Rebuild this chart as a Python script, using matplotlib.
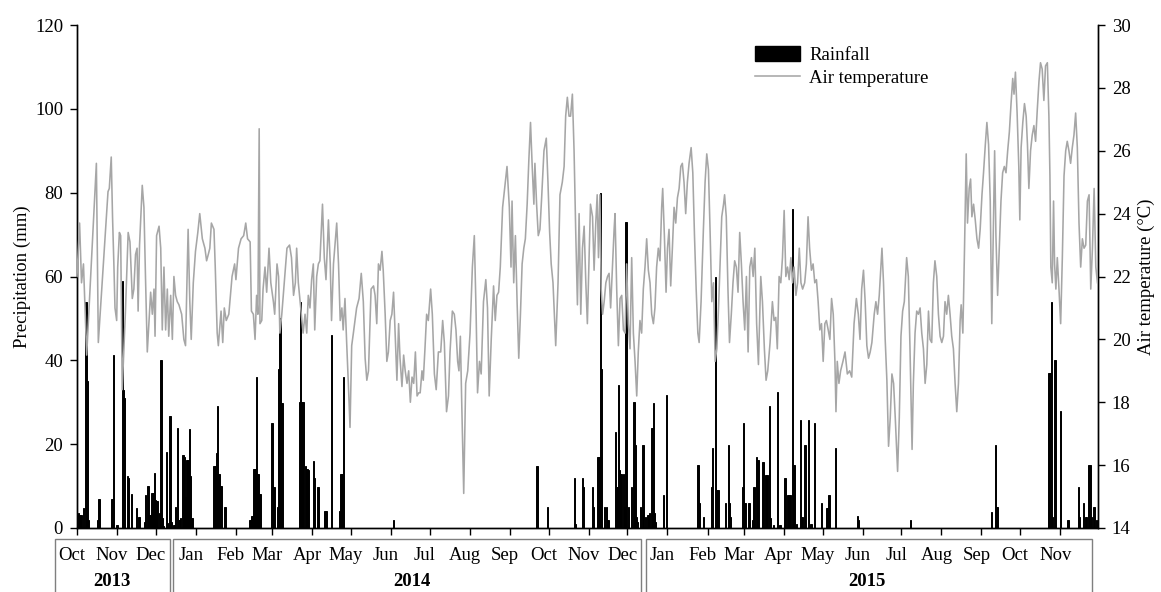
import numpy as np
import matplotlib
matplotlib.use('Agg')
import matplotlib.pyplot as plt
from matplotlib.patches import Rectangle, Patch
from matplotlib.lines import Line2D
from matplotlib.transforms import ScaledTranslation

plt.rcParams['font.family'] = ['Liberation Serif', 'DejaVu Serif']

# ---------------- data (day 0 = 2013-10-01) ----------------
rain_day = [1, 2, 3, 5, 7, 8, 9, 16, 17, 27,
            28, 31, 35, 36, 37, 39, 40, 42, 46, 48,
            52, 53, 55, 56, 57, 58, 59, 60, 61, 62,
            64, 65, 66, 67, 69, 70, 72, 73, 75, 76,
            78, 79, 80, 82, 83, 84, 85, 86, 87, 88,
            89, 106, 107, 108, 109, 110, 111, 112, 114, 115,
            134, 135, 136, 137, 138, 139, 140, 141, 142, 151,
            152, 153, 155, 156, 157, 158, 159, 172, 173, 174,
            175, 177, 178, 179, 183, 184, 186, 187, 192, 193,
            197, 203, 204, 205, 206, 245, 356, 364, 385, 386,
            391, 392, 399, 400, 403, 404, 405, 406, 408, 410,
            411, 417, 418, 419, 420, 421, 423, 424, 425, 427,
            429, 431, 432, 433, 434, 436, 438, 440, 442, 443,
            445, 446, 447, 448, 454, 456, 480, 481, 482, 485,
            491, 492, 494, 495, 496, 502, 504, 505, 506, 515,
            516, 517, 520, 523, 524, 526, 527, 531, 533, 534,
            536, 537, 539, 542, 544, 548, 550, 551, 552, 554,
            555, 557, 560, 561, 563, 564, 566, 568, 571, 576,
            580, 581, 582, 587, 604, 605, 645, 708, 711, 712,
            752, 753, 754, 755, 757, 761, 767, 775, 776, 779,
            781, 783, 784, 785, 787, 789]
rain_mm = [3.5, 3, 3, 4.7, 54, 35, 1.9, 2, 7, 7,
           41.3, 0.7, 59, 33, 31, 12.3, 12, 8, 4.7, 2.7,
           1.5, 7.9, 10.1, 3, 3, 8.3, 8.3, 13.2, 6.7, 6.4,
           3.5, 40, 2.3, 0.4, 18.2, 1.1, 26.8, 1.5, 0.7, 4.9,
           23.8, 1.9, 2.3, 17.3, 17, 7.5, 16.2, 16.2, 23.6, 12.5,
           2.5, 14.9, 14.9, 18, 29.1, 13, 10, 10, 4.9, 4.9,
           2, 2.9, 2.9, 14, 14, 36, 13, 8, 8, 25,
           9.9, 9.9, 4.9, 37.9, 50, 29.8, 29.8, 30, 54, 30,
           30, 14.9, 14, 13.8, 16, 11.9, 9.9, 9.9, 4, 4,
           46, 4, 13, 13, 36, 2, 14.9, 4.9, 12, 0.9,
           12, 9.9, 9.9, 4.9, 17, 17, 80, 38, 5, 5,
           2, 23, 9.9, 34, 13.8, 13, 13, 5, 73, 5,
           9.9, 30, 19.8, 2.7, 1.5, 5, 19.8, 2.7, 3.1, 3.5,
           23.8, 29.8, 3.5, 1.5, 7.9, 31.7, 15, 15, 5.9, 2.7,
           9.9, 19, 60, 9, 9, 5.9, 19.8, 5.9, 2.7, 9.9,
           25, 5.9, 5.9, 2, 9.9, 17, 16.2, 15.8, 12.6, 12.6,
           29, 2.3, 0.8, 32.4, 0.8, 11.9, 7.9, 7.9, 7.9, 76,
           15, 1, 25.8, 2.7, 19.8, 19.8, 25.8, 1, 25, 5.9,
           4.7, 4.7, 7.9, 19, 2.9, 1.9, 2, 3.9, 19.8, 5,
           37, 37, 54, 2.7, 40, 28, 2, 9.9, 2.7, 5.9,
           2.7, 15, 15, 2.7, 5, 2]

temp_day = [0, 2, 3.5, 5, 6, 7.5, 15, 16.5, 24, 25,
            26.5, 27.5, 28.6, 29.4, 30.7, 31.5, 32.8, 33.8, 35, 37.5,
            39.6, 41, 42.8, 44, 45.3, 46.5, 47.3, 48.4, 50.5, 51.8,
            53, 54.4, 57, 58.3, 59.6, 60.4, 61.6, 63.5, 64.8, 66,
            67.3, 68.6, 69.9, 71, 72.5, 73.8, 75, 76.3, 77.6, 78.9,
            81, 82.7, 84, 86, 87.3, 88.4, 90, 91.7, 93.5, 95,
            97, 99, 100.3, 101.6, 102.8, 104, 106, 107, 108.5, 109.4,
            111.5, 112.8, 114, 115.5, 117.5, 120, 122, 123, 125, 127,
            129, 130.6, 132, 134, 135, 136.5, 137.8, 139, 140, 141,
            141.6, 143, 144, 145.5, 146.8, 148.6, 150, 152, 153, 154.8,
            156, 157, 158.5, 160, 162.5, 164.5, 166, 167.6, 169, 170,
            171.3, 173.4, 175, 176.5, 177.8, 179, 180.3, 181.6, 182.9, 184,
            185.5, 186.8, 188, 190, 191.4, 192.7, 194.6, 196, 197, 198.5,
            199.8, 201, 202.4, 203.7, 205, 206, 207.4, 208.7, 210, 211.3,
            212.6, 213.9, 216.4, 218.3, 220, 221.6, 223, 224.3, 225.6, 227.6,
            229.5, 230.7, 232, 233.3, 234.6, 236, 237, 238.5, 239.8, 241,
            242.4, 243.7, 245, 246.3, 247.6, 248.9, 250, 251.5, 252.8, 254,
            255.4, 256.7, 258, 259.3, 260.6, 261.9, 263.2, 264.5, 265.6, 267,
            268, 269.3, 270.6, 271.9, 273.7, 275, 276.6, 278, 279.7, 281.5,
            283, 284.3, 286, 287.5, 288.7, 290.5, 292, 293.3, 294.6, 295.6,
            296.7, 297.7, 299.3, 300.8, 302.4, 304.2, 306, 307.5, 308.9, 310,
            311.5, 312.8, 314.6, 316.4, 317.7, 319, 320.6, 322.4, 323.7, 325,
            326.3, 327.6, 329.4, 331, 332.8, 334.6, 335.9, 336.7, 338, 339.3,
            340.6, 341.9, 343.2, 344.5, 345.8, 347, 348.4, 349.7, 351, 352.3,
            353.6, 354.4, 355.7, 357, 358.3, 359.6, 361.4, 363.2, 364.5, 365.8,
            367, 368.4, 370.5, 372.3, 373.8, 375.6, 377, 378.2, 379.5, 380.8,
            382, 383.4, 384.7, 386, 387.3, 388.6, 389.9, 391.2, 392.5, 393.8,
            395, 396.3, 397.4, 399, 400.2, 401.5, 402.6, 403.6, 404.7, 405.7,
            406.8, 408, 409.3, 410.6, 411.8, 413, 414.4, 415.7, 416.4, 417.7,
            419, 420.3, 421.6, 422.9, 424.2, 425.4, 426.7, 428, 429.3, 430.6,
            431.9, 433.2, 434.4, 435.7, 437, 438.3, 439.6, 440.9, 442.2, 443.5,
            444.8, 446.1, 447.3, 448.6, 449.9, 451.2, 452.5, 453.3, 454.6, 455.9,
            457, 458.2, 459.5, 460.8, 462.1, 463.4, 464.7, 466, 467.3, 468.5,
            469.8, 471.1, 472.4, 473.7, 475.3, 476.6, 477.9, 479.2, 480.5, 481.5,
            483, 484.8, 486.1, 487.4, 488.7, 490, 491.3, 492.6, 493.9, 495.2,
            496.5, 497.8, 499, 500.4, 501.2, 502.5, 503.8, 505, 506.4, 507.7,
            509, 510.3, 511.6, 512.9, 514.2, 515.5, 516.8, 518.1, 519.4, 520.7,
            522, 523.3, 524.6, 526, 527.4, 529.2, 530.5, 532, 533.3, 534.6,
            536.4, 538.2, 539.5, 540.8, 542, 543.4, 544.7, 546, 547.3, 548.6,
            549.9, 551.2, 552.5, 553.8, 555, 556.4, 557.7, 559, 560.3, 561.6,
            563.2, 564.5, 565.8, 567, 568.4, 569.7, 571, 572.3, 573.6, 574.9,
            576.2, 577.5, 578.8, 580, 581.4, 582.7, 584, 585.3, 586.6, 587.4,
            588.4, 589.7, 591, 592.8, 594.4, 596.2, 598, 599.6, 601.4, 603.2,
            604.7, 606, 607.3, 608.7, 610, 611.3, 612.6, 613.9, 615.2, 617,
            618.3, 619.6, 620.9, 623, 624.2, 625.5, 626.8, 628.1, 629.4, 630.7,
            632, 633.3, 635.1, 636.4, 637.7, 639, 640.3, 642.1, 643.4, 644.7,
            646.3, 647.3, 648.6, 649.9, 651.2, 652.5, 653.8, 655.1, 656.4, 657.7,
            659, 660.2, 661.5, 662.8, 664, 665.4, 666.7, 668, 669.3, 670.6,
            671.8, 673.1, 674.4, 675.7, 677, 678.3, 679.6, 680.9, 682.2, 683.5,
            684.3, 685.6, 686.9, 688.2, 689.2, 690.5, 691.6, 692.6, 693.9, 695.2,
            696.5, 697.8, 699, 700.4, 701.6, 703, 704.2, 705.5, 706.8, 708,
            709.4, 710.2, 711.2, 712.5, 713.8, 715.1, 716.4, 717.7, 719, 720.3,
            721.6, 722.9, 724.2, 725.2, 726.3, 727.6, 728.9, 729.7, 730.7, 732,
            733.3, 734.6, 735.6, 736.7, 738, 739.3, 740.6, 741.9, 743.2, 744.5,
            745.7, 747, 748.3, 749.6, 751, 752.2, 753, 753.7, 754.8, 755.8,
            756.6, 757.6, 758.7, 760, 761.3, 762.6, 763.9, 765.2, 766.4, 767.7,
            769, 770.3, 771.6, 772.9, 774.2, 775.5, 776.8, 778.1, 779.4, 780.7,
            782, 783.3, 784.6, 785.9, 787.2, 788.5, 789.8]
temp_c = [22.0, 23.7, 21.8, 22.4, 21.2, 19.5, 25.6, 19.9, 24.7, 24.8,
          25.8, 23.9, 22.3, 21.0, 20.6, 22.3, 23.4, 23.3, 18.4, 20.9,
          23.4, 23.1, 21.3, 21.6, 22.7, 22.9, 20.9, 23.0, 24.9, 24.2,
          22.0, 19.6, 21.5, 20.8, 21.6, 20.1, 23.3, 23.6, 22.9, 20.3,
          22.3, 20.3, 21.6, 20.1, 21.4, 20.0, 22.0, 21.4, 21.2, 21.1,
          20.8, 20.0, 19.8, 23.5, 21.2, 20.0, 21.8, 22.8, 23.4, 24.0,
          23.2, 22.9, 22.5, 22.7, 22.9, 23.7, 23.5, 22.3, 20.2, 19.8,
          20.9, 19.9, 21.0, 20.6, 20.8, 22.0, 22.4, 21.9, 22.9, 23.2,
          23.3, 23.7, 23.2, 23.1, 20.9, 20.8, 20.0, 21.4, 20.8, 26.7,
          20.5, 20.6, 21.6, 22.3, 21.5, 22.9, 21.8, 21.2, 20.8, 22.4,
          22.0, 20.2, 20.8, 21.6, 22.9, 23.0, 22.6, 21.4, 21.8, 22.9,
          21.8, 20.9, 20.2, 20.8, 20.2, 21.4, 21.0, 21.9, 22.4, 20.3,
          22.0, 22.4, 22.5, 24.3, 22.6, 21.9, 23.8, 22.4, 20.6, 22.4,
          23.1, 23.7, 22.4, 20.6, 21.0, 20.3, 21.3, 19.9, 18.6, 17.2,
          19.8, 20.2, 21.0, 21.3, 22.1, 21.2, 19.4, 18.7, 19.0, 21.6,
          21.7, 21.4, 20.5, 22.4, 22.2, 22.8, 22.2, 20.8, 19.3, 19.6,
          20.6, 20.8, 21.5, 20.1, 18.7, 20.5, 19.4, 18.5, 19.5, 19.0,
          18.6, 19.0, 18.0, 18.8, 18.6, 19.6, 18.2, 18.3, 18.3, 19.0,
          18.7, 19.7, 20.8, 20.6, 21.6, 20.8, 18.9, 18.4, 19.6, 19.6,
          20.6, 19.9, 17.7, 18.2, 19.6, 20.9, 20.8, 20.3, 19.3, 19.0,
          20.1, 18.1, 15.1, 18.6, 19.0, 20.2, 22.3, 23.3, 20.8, 18.3,
          19.3, 18.9, 21.2, 21.9, 21.0, 18.2, 20.0, 21.7, 20.6, 21.4,
          21.5, 22.3, 24.2, 24.8, 25.5, 24.2, 22.3, 24.4, 21.8, 23.3,
          21.2, 19.4, 20.8, 22.4, 22.9, 23.2, 24.3, 25.7, 26.9, 25.5,
          24.3, 25.6, 24.3, 23.3, 23.5, 24.5, 26.0, 26.4, 25.0, 23.4,
          22.4, 21.8, 19.8, 21.8, 24.6, 25.0, 25.5, 27.1, 27.7, 27.1,
          27.1, 27.8, 26.0, 23.4, 21.1, 24.0, 20.8, 22.9, 23.6, 21.8,
          20.5, 22.6, 24.3, 23.9, 22.2, 23.7, 24.6, 22.6, 24.6, 21.6,
          20.8, 21.2, 21.8, 22.0, 22.1, 21.0, 22.3, 23.5, 24.0, 21.6,
          19.8, 21.3, 21.4, 20.3, 20.2, 22.4, 20.5, 19.7, 22.6, 20.2,
          19.3, 18.2, 19.6, 20.6, 20.2, 21.6, 22.3, 23.2, 22.2, 21.8,
          20.8, 20.5, 21.0, 22.3, 22.9, 22.5, 24.2, 24.8, 23.3, 21.5,
          22.9, 23.5, 21.7, 22.9, 24.2, 23.7, 24.5, 24.8, 25.5, 25.6,
          25.0, 24.0, 25.0, 25.6, 26.1, 25.3, 23.3, 21.6, 20.2, 19.9,
          21.2, 23.5, 25.0, 25.9, 25.4, 23.4, 21.2, 21.8, 19.3, 19.7,
          21.0, 22.5, 23.9, 24.3, 24.6, 23.9, 21.6, 19.9, 20.8, 21.8,
          22.5, 22.3, 21.5, 23.4, 22.4, 21.2, 20.3, 22.0, 19.6, 22.3,
          22.6, 22.0, 22.9, 20.5, 19.2, 22.0, 21.2, 19.7, 18.7, 19.0,
          19.9, 21.2, 20.6, 20.7, 19.7, 22.0, 21.8, 22.6, 24.1, 22.0,
          22.3, 21.9, 22.6, 21.8, 22.3, 21.4, 21.8, 22.9, 21.8, 21.6,
          21.8, 22.4, 23.9, 22.9, 22.2, 22.4, 21.8, 21.9, 21.2, 20.3,
          20.5, 19.3, 20.5, 20.6, 20.3, 20.0, 21.3, 20.8, 19.3, 17.7,
          19.3, 18.6, 19.0, 19.3, 19.6, 18.9, 19.0, 18.8, 20.5, 21.3,
          20.8, 20.0, 21.6, 22.2, 21.2, 19.8, 19.4, 19.6, 19.9, 20.8,
          21.2, 20.8, 21.4, 22.9, 21.8, 20.0, 18.7, 16.6, 17.5, 18.9,
          18.6, 17.5, 15.8, 17.5, 20.1, 20.9, 21.2, 22.6, 22.0, 19.7,
          16.5, 18.6, 20.2, 20.9, 20.8, 21.0, 20.2, 19.7, 18.6, 19.2,
          20.9, 20.0, 19.9, 21.8, 22.5, 22.0, 20.8, 20.1, 19.9, 20.1,
          21.2, 20.8, 21.4, 20.8, 20.1, 19.7, 18.6, 17.7, 18.6, 20.6,
          21.1, 20.2, 22.9, 25.9, 23.7, 24.8, 25.1, 23.9, 24.3, 23.8,
          23.2, 22.9, 23.5, 24.6, 25.3, 26.2, 26.9, 26.2, 24.4, 20.5,
          23.9, 26.0, 23.3, 21.4, 22.9, 24.4, 25.3, 25.5, 25.3, 26.0,
          26.6, 27.5, 28.3, 27.8, 28.5, 27.2, 25.5, 23.8, 26.1, 26.9,
          27.5, 27.1, 26.2, 24.8, 26.0, 26.5, 26.8, 26.3, 27.3, 28.2,
          28.8, 28.6, 27.6, 28.7, 28.8, 27.1, 25.2, 22.3, 21.8, 24.4,
          22.4, 21.6, 22.6, 21.6, 20.5, 22.6, 25.2, 26.0, 26.3, 26.0,
          25.6, 26.1, 26.5, 27.2, 26.1, 23.7, 22.3, 23.2, 22.9, 23.0,
          24.4, 24.6, 21.6, 22.9, 24.8, 22.3, 21.8]

month_labels = ['Oct', 'Nov', 'Dec',
                'Jan', 'Feb', 'Mar', 'Apr', 'May', 'Jun', 'Jul', 'Aug', 'Sep', 'Oct', 'Nov', 'Dec',
                'Jan', 'Feb', 'Mar', 'Apr', 'May', 'Jun', 'Jul', 'Aug', 'Sep', 'Oct', 'Nov']
year_labels = ['2013', '2014', '2015']

assert len(rain_day) == len(rain_mm)
assert len(temp_day) == len(temp_c)

# ---------------- figure ----------------
W, H = 1161, 592
FS = 13.5
fig = plt.figure(figsize=(W / 100, H / 100), dpi=100)
ax = fig.add_axes([77 / W, 1 - 528 / H, (1098 - 77) / W, (528 - 25) / H])

ax.bar(rain_day, rain_mm, width=1.0, color='black', edgecolor='black', linewidth=0.7, zorder=2)
ax.set_xlim(0, 790.2)
ax.set_ylim(0, 120)
ax.set_yticks(np.arange(0, 121, 20))

start = np.datetime64('2013-10-01')
month_starts = np.arange('2013-10', '2015-12', dtype='datetime64[M]').astype('datetime64[D]')
month_pos = (month_starts - start).astype(int)
ax.set_xticks(month_pos)
ax.set_xticklabels(month_labels)

ax2 = ax.twinx()
ax2.plot(temp_day, temp_c, color='#a6a6a6', lw=1.15, zorder=3)
ax2.set_ylim(14, 30)
ax2.set_yticks(np.arange(14, 31, 2))
ax2.set_xlim(0, 790.2)

for a in (ax, ax2):
    a.spines['top'].set_visible(False)
    for s in ('left', 'right', 'bottom'):
        a.spines[s].set_linewidth(1.0)

ax.tick_params(axis='y', direction='out', length=5, width=1, labelsize=FS, pad=5)
ax.tick_params(axis='x', direction='out', length=5, width=1, labelsize=FS, pad=9)
ax2.tick_params(axis='y', direction='out', length=5, width=1, labelsize=FS, pad=5)

offset = ScaledTranslation(-5 / 100, 0, fig.dpi_scale_trans)
for lab in ax.get_xticklabels():
    lab.set_transform(lab.get_transform() + offset)

ax.set_ylabel('Precipitation (mm)', fontsize=FS, labelpad=3)
ax2.set_ylabel('Air temperature (°C)', fontsize=FS, labelpad=5)

handles = [Patch(facecolor='black', edgecolor='black'),
           Line2D([], [], color='#a6a6a6', lw=1.15)]
ax2.legend(handles, ['Rainfall', 'Air temperature'], loc='upper left',
           bbox_to_anchor=(755 / W, 1 - 46 / H), bbox_transform=fig.transFigure,
           frameon=False, fontsize=FS, handlelength=2.4, handleheight=0.85,
           handletextpad=0.5, labelspacing=0.25, borderpad=0, borderaxespad=0)

# year boxes
boxes = [(55, 170), (173, 641), (646, 1092)]
year_x = [112, 412, 867]
for (x0, x1), yl, yx in zip(boxes, year_labels, year_x):
    fig.add_artist(Rectangle((x0 / W, 1 - 620 / H), (x1 - x0) / W, (620 - 539) / H,
                             transform=fig.transFigure, fill=False,
                             edgecolor='#7f7f7f', linewidth=1.0))
    fig.text(yx / W, 1 - 582 / H, yl, ha='center', va='center',
             fontsize=FS, fontweight='bold')

fig.savefig('out.png', dpi=100)
